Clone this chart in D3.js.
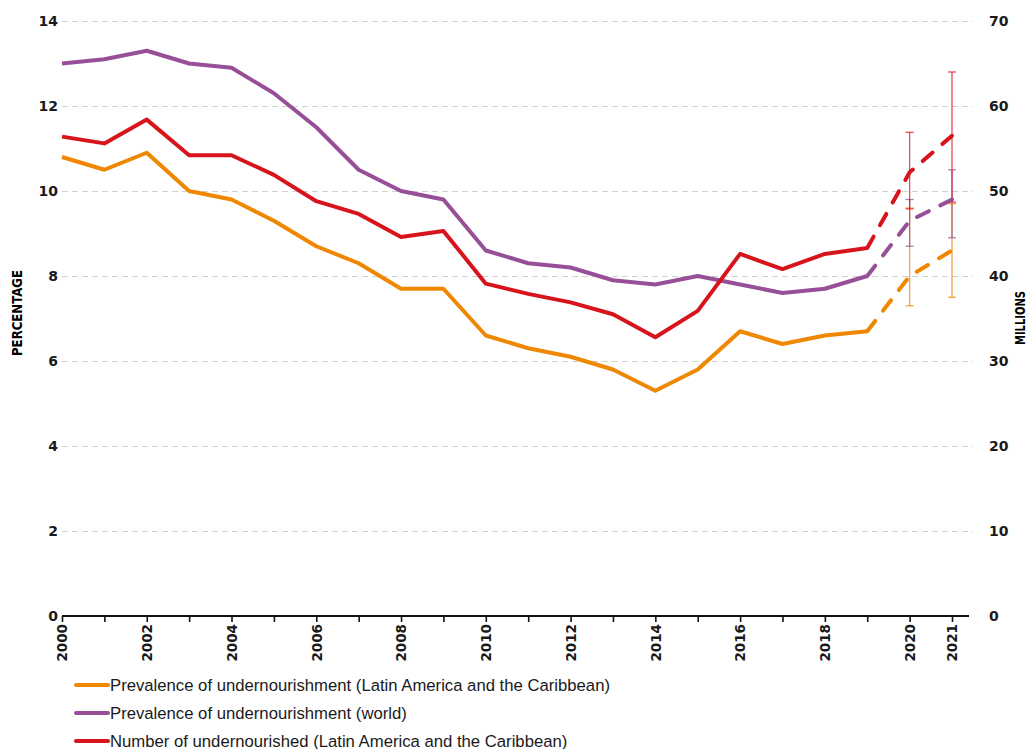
<!DOCTYPE html>
<html>
<head>
<meta charset="utf-8">
<script src="https://cdn.jsdelivr.net/npm/d3@7"></script>
<style>
  body { margin: 0; background: #fff; }
  .tick text { font-family: "DejaVu Sans", sans-serif; font-weight: bold; fill: #1a1a1a; }
  .grid .tick line { stroke: #d0d0d0; stroke-dasharray: 6,4; }
  .grid .domain { display: none; }
</style>
</head>
<body>
<div id="chart"></div>
<script>

// years on the x axis
var years = [2000, 2001, 2002, 2003, 2004, 2005, 2006, 2007, 2008, 2009, 2010,
             2011, 2012, 2013, 2014, 2015, 2016, 2017, 2018, 2019, 2020, 2021];

// prevalence of undernourishment, Latin America and the Caribbean (%)
var pouLac = [10.8, 10.5, 10.9, 10.0, 9.8, 9.3, 8.7, 8.3, 7.7, 7.7, 6.6,
              6.3, 6.1, 5.8, 5.3, 5.8, 6.7, 6.4, 6.6, 6.7, 8.0, 8.6];

// prevalence of undernourishment, world (%)
var pouWorld = [13.0, 13.1, 13.3, 13.0, 12.9, 12.3, 11.5, 10.5, 10.0, 9.8, 8.6,
                8.3, 8.2, 7.9, 7.8, 8.0, 7.8, 7.6, 7.7, 8.0, 9.3, 9.8];

// number of undernourished, Latin America and the Caribbean (millions)
var nouLac = [56.4, 55.6, 58.4, 54.2, 54.2, 51.9, 48.8, 47.3, 44.6, 45.3, 39.1,
              37.9, 36.9, 35.5, 32.8, 35.9, 42.6, 40.8, 42.6, 43.3, 52.2, 56.5];

// projection ranges for 2020 and 2021
var rangeYears = [2020, 2021];
var pouLacLow = [7.3, 7.5], pouLacHigh = [9.6, 9.7];
var pouWorldLow = [8.7, 8.9], pouWorldHigh = [9.8, 10.5];
var nouLacLow = [47.9, 48.7], nouLacHigh = [56.9, 64.0];

var leftTicks = [0, 2, 4, 6, 8, 10, 12, 14];
var rightTicks = [0, 10, 20, 30, 40, 50, 60, 70];
var labelYears = [2000, 2002, 2004, 2006, 2008, 2010, 2012, 2014, 2016, 2018, 2020, 2021];

var legendLabels = [
    "Prevalence of undernourishment (Latin America and the Caribbean)",
    "Prevalence of undernourishment (world)",
    "Number of undernourished (Latin America and the Caribbean)"
];
var colors = ["#f08700", "#974f98", "#d7141c"];

var width = 1029, height = 749;
var margin = { left: 62, right: 973, top: 21, bottom: 616 };

var svg = d3.select("#chart").append("svg")
    .attr("width", width)
    .attr("height", height);

var x = d3.scaleLinear().domain([2000, 2021]).range([margin.left, 952]);
var yPct = d3.scaleLinear().domain([0, 14]).range([margin.bottom, margin.top]);
var yMil = d3.scaleLinear().domain([0, 70]).range([margin.bottom, margin.top]);

// grid + left axis
svg.append("g")
    .attr("class", "grid")
    .attr("transform", "translate(" + margin.left + ",0)")
    .call(d3.axisLeft(yPct).tickValues(leftTicks).tickSize(-(margin.right - margin.left)).tickPadding(4))
    .selectAll(".tick text")
    .style("font-size", "14px");

svg.selectAll(".grid .tick").filter(function(d) { return d === 0; })
    .select("line").remove();

// right axis labels
svg.append("g")
    .attr("class", "raxis")
    .attr("transform", "translate(" + margin.right + ",0)")
    .call(d3.axisRight(yMil).tickValues(rightTicks).tickSize(0).tickPadding(16))
    .call(function(g) { g.select(".domain").remove(); })
    .selectAll(".tick text")
    .style("font-size", "14px");

// x axis
var xAxis = svg.append("g")
    .attr("transform", "translate(0," + margin.bottom + ")")
    .call(d3.axisBottom(x).tickValues(years).tickSize(6).tickSizeOuter(0)
        .tickFormat(function(d) { return labelYears.indexOf(d) >= 0 ? d : ""; }));

xAxis.select(".domain")
    .attr("d", "M" + margin.left + ",0H969")
    .attr("stroke", "#111")
    .attr("stroke-width", 2.2);
xAxis.selectAll(".tick line").attr("stroke", "#111").attr("stroke-width", 1.6);
xAxis.selectAll(".tick text")
    .style("font-size", "13.5px")
    .attr("transform", "rotate(-90)")
    .attr("text-anchor", "end")
    .attr("x", -8)
    .attr("y", 0)
    .attr("dy", "0.36em");

// axis titles
svg.append("text")
    .attr("transform", "translate(22,313) rotate(-90)")
    .attr("text-anchor", "middle")
    .style("font-family", "'Liberation Sans Narrow', 'DejaVu Sans Condensed', sans-serif")
    .style("font-weight", "bold")
    .style("font-size", "14px")
    .attr("textLength", 86)
    .attr("lengthAdjust", "spacingAndGlyphs")
    .text("PERCENTAGE");

svg.append("text")
    .attr("transform", "translate(1025,318) rotate(-90)")
    .attr("text-anchor", "middle")
    .style("font-family", "'Liberation Sans Narrow', 'DejaVu Sans Condensed', sans-serif")
    .style("font-weight", "bold")
    .style("font-size", "14px")
    .attr("textLength", 54)
    .attr("lengthAdjust", "spacingAndGlyphs")
    .text("MILLIONS");

// series setup
var series = [
    { values: pouLac, scale: yPct, low: pouLacLow, high: pouLacHigh, color: colors[0] },
    { values: pouWorld, scale: yPct, low: pouWorldLow, high: pouWorldHigh, color: colors[1] },
    { values: nouLac, scale: yMil, low: nouLacLow, high: nouLacHigh, color: colors[2] }
];

// error bars
series.forEach(function(s) {
    var g = svg.append("g").attr("stroke", s.color).attr("stroke-opacity", 0.75).attr("stroke-width", 1.3);
    rangeYears.forEach(function(yr, i) {
        var cx = x(yr);
        g.append("line").attr("x1", cx).attr("x2", cx)
            .attr("y1", s.scale(s.low[i])).attr("y2", s.scale(s.high[i]));
        [s.low[i], s.high[i]].forEach(function(v) {
            g.append("line").attr("x1", cx - 4).attr("x2", cx + 4)
                .attr("y1", s.scale(v)).attr("y2", s.scale(v));
        });
    });
});

// lines: solid up to 2019, dashed after
var cut = years.indexOf(2019);
series.forEach(function(s) {
    var line = d3.line()
        .x(function(d) { return x(d.year); })
        .y(function(d) { return s.scale(d.value); });
    var pts = years.map(function(yr, i) { return { year: yr, value: s.values[i] }; });

    svg.append("path")
        .datum(pts.slice(0, cut + 1))
        .attr("d", line)
        .attr("fill", "none")
        .attr("stroke", s.color)
        .attr("stroke-width", 4)
        .attr("stroke-linejoin", "round");

    svg.append("path")
        .datum(pts.slice(cut))
        .attr("d", line)
        .attr("fill", "none")
        .attr("stroke", s.color)
        .attr("stroke-width", 4)
        .attr("stroke-linecap", "round")
        .attr("stroke-dasharray", "13,13");
});

// legend
var legend = svg.append("g").attr("transform", "translate(76,685)");
legendLabels.forEach(function(label, i) {
    var row = legend.append("g").attr("transform", "translate(0," + (i * 28) + ")");
    row.append("line")
        .attr("x1", 0).attr("x2", 32)
        .attr("stroke", colors[i])
        .attr("stroke-width", 4)
        .attr("stroke-linecap", "round");
    row.append("text")
        .attr("x", 34)
        .attr("dy", "0.35em")
        .style("font-family", "'Liberation Sans Narrow', 'Liberation Sans', sans-serif")
        .style("font-size", "16.7px")
        .style("fill", "#1a1a1a")
        .text(label);
});

</script>
</body>
</html>
